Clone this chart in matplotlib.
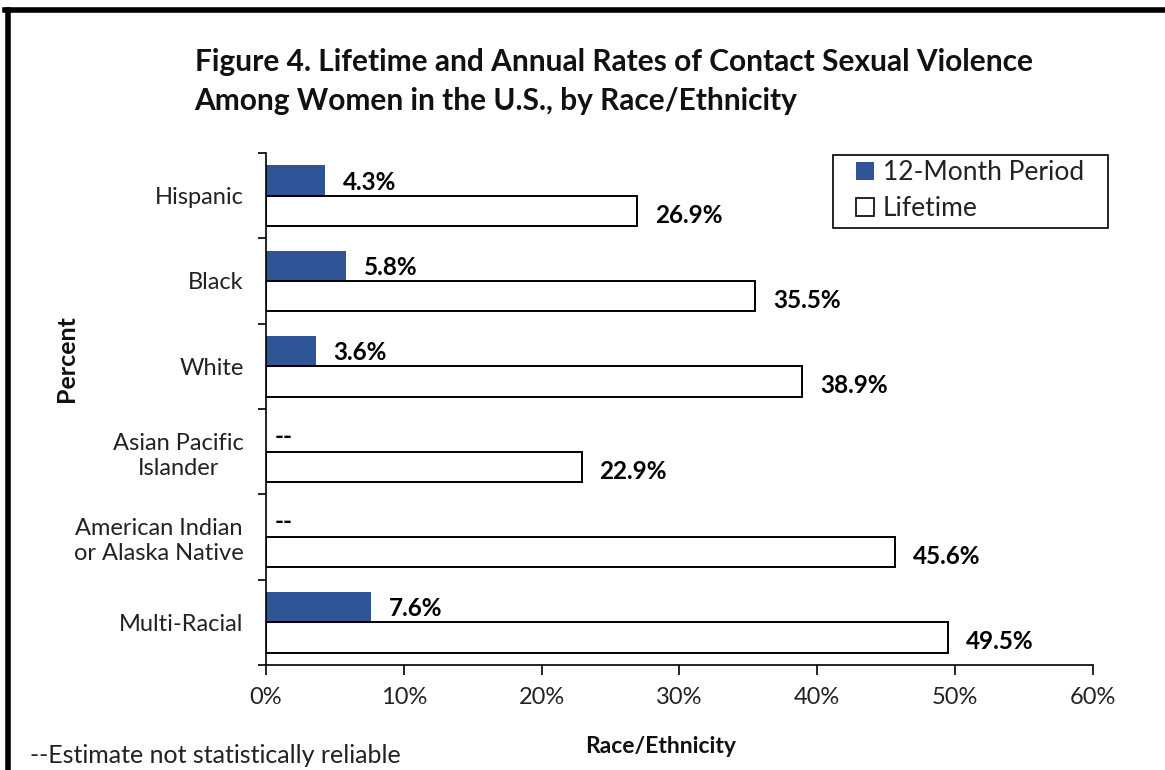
import matplotlib.pyplot as plt
from matplotlib.lines import Line2D
from matplotlib.patches import Patch, Rectangle
import numpy as np

plt.rcParams['font.family'] = ['Lato', 'DejaVu Sans']

# data
groups = ['Hispanic', 'Black', 'White', 'Asian Pacific\nIslander',
          'American Indian\nor Alaska Native', 'Multi-Racial']
month12 = [4.3, 5.8, 3.6, None, None, 7.6]
lifetime = [26.9, 35.5, 38.9, 22.9, 45.6, 49.5]
x_ticks = [0, 10, 20, 30, 40, 50, 60]

blue = '#2F5597'
txt = '#222222'

fig = plt.figure(figsize=(11.65, 7.7), dpi=100)
ax = fig.add_axes([0.2283, 0.1364, 0.7099, 0.6649])

y = np.arange(len(groups))
off = 0.178
h = 0.355
m_vals = [v if v is not None else 0 for v in month12]
ax.barh(y - off, m_vals, height=h, color=blue, edgecolor='none')
ax.barh(y + off, lifetime, height=h, color='white', edgecolor='black', linewidth=1.4)

# value labels
for i, v in enumerate(month12):
    if v is None:
        ax.text(0.6, i - off, '--', va='center', ha='left', fontsize=17.5, fontweight='bold')
    else:
        ax.text(v + 1.3, i - off + 0.02, f'{v}%', va='center', ha='left', fontsize=17.5, fontweight='bold')
for i, v in enumerate(lifetime):
    ax.text(v + 1.3, i + off + 0.05, f'{v}%', va='center', ha='left', fontsize=17.5, fontweight='bold')

ax.set_xlim(0, 60)
ax.set_ylim(len(groups) - 0.5, -0.5)
ax.set_xticks(x_ticks)
ax.set_xticklabels([f'{t}%' for t in x_ticks], fontsize=17, color=txt)
ax.tick_params(axis='x', length=7, width=1.2, pad=9, direction='out')

# boundary ticks on y, labels at centres
ax.set_yticks(np.arange(-0.5, len(groups)))
ax.set_yticklabels([])
ax.tick_params(axis='y', which='major', length=6, width=1.2, direction='out')
ax.set_yticks(y, minor=True)
ax.set_yticklabels(groups, minor=True, fontsize=17, ha='right', multialignment='center',
                   color=txt, linespacing=1.25)
ax.tick_params(axis='y', which='minor', length=0, pad=16)

for s in ['top', 'right']:
    ax.spines[s].set_visible(False)
ax.spines['left'].set_linewidth(1.2)
ax.spines['bottom'].set_linewidth(1.2)

fig.text(0.567, 0.03, 'Race/Ethnicity', fontsize=16.5, fontweight='bold', ha='center', va='center', color='#111111')
fig.text(0.057, 0.534, 'Percent', rotation=90, fontsize=18, fontweight='bold', ha='center', va='center',
         color='#111111')

fig.text(0.167, 0.894, 'Figure 4. Lifetime and Annual Rates of Contact Sexual Violence\n'
         'Among Women in the U.S., by Race/Ethnicity',
         fontsize=21.5, fontweight='bold', ha='left', va='center', linespacing=1.45, color='#111111')

fig.text(0.026, 0.019, '--Estimate not statistically reliable', fontsize=18, ha='left', va='center', color=txt)

# legend: frame drawn separately for the wide side padding
ax.add_patch(Rectangle((0.6856, 0.8535), 0.3325, 0.1425, transform=ax.transAxes, facecolor='white',
                       edgecolor='black', linewidth=1.2, clip_on=False, zorder=4))
handles = [Patch(facecolor=blue, edgecolor='none'),
           Patch(facecolor='white', edgecolor='black', linewidth=1.2)]
leg = ax.legend(handles, ['12-Month Period', 'Lifetime'], loc='center left',
                bbox_to_anchor=(0.714, 0.926), fontsize=19, frameon=False,
                handlelength=0.65, handleheight=0.65, handletextpad=0.35, borderpad=0,
                labelspacing=0.42, borderaxespad=0)
leg.set_zorder(5)
for t in leg.get_texts():
    t.set_color(txt)

# outer border (left and top)
fig.add_artist(Line2D([0.0065, 0.0065], [0, 0.987], color='black', linewidth=4, transform=fig.transFigure))
fig.add_artist(Line2D([0.0045, 1.0], [0.987, 0.987], color='black', linewidth=4, transform=fig.transFigure))

fig.savefig('out.png', dpi=100)
